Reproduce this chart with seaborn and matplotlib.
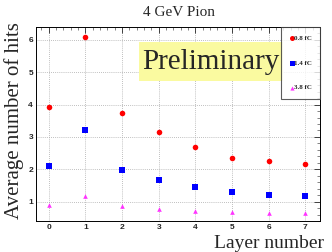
import numpy as np
import pandas as pd
import matplotlib
matplotlib.use("Agg")
import matplotlib.pyplot as plt
import seaborn as sns
from matplotlib.patches import Rectangle
from matplotlib.ticker import MultipleLocator

# ====================== 数据 ===========================
layers = [0, 1, 2, 3, 4, 5, 6, 7]
hits_08 = [3.92, 6.09, 3.75, 3.15, 2.69, 2.35, 2.26, 2.16]
hits_14 = [2.09, 3.22, 1.98, 1.67, 1.44, 1.30, 1.21, 1.18]
hits_38 = [0.90, 1.18, 0.85, 0.78, 0.72, 0.69, 0.66, 0.65]
thresholds = ["0.8 fC", "1.4 fC", "3.8 fC"]

df = pd.DataFrame({
    "layer": layers * 3,
    "hits": hits_08 + hits_14 + hits_38,
    "thr": [t for t in thresholds for _ in layers],
})

sns.set_style("white")
plt.rcParams["font.family"] = ["Liberation Serif", "DejaVu Serif"]

fig = plt.figure(figsize=(3.32, 2.52), dpi=100)
ax = fig.add_axes([0.108, 0.123, 0.856, 0.770])

palette = {"0.8 fC": "#ff0000", "1.4 fC": "#0000ff", "3.8 fC": "#ff33ff"}
markers = {"0.8 fC": "o", "1.4 fC": "s", "3.8 fC": "^"}
sizes = {"0.8 fC": 16, "1.4 fC": 16, "3.8 fC": 11}
for t in thresholds:
    sub = df[df["thr"] == t]
    sns.scatterplot(data=sub, x="layer", y="hits", color=palette[t], marker=markers[t],
                    s=sizes[t], linewidth=0, ax=ax, label=t, zorder=3)

ax.set_xlim(-0.35, 7.4)
ax.set_ylim(0.4, 6.4)
ax.xaxis.set_major_locator(MultipleLocator(1))
ax.yaxis.set_major_locator(MultipleLocator(1))
ax.xaxis.set_minor_locator(MultipleLocator(0.2))
ax.yaxis.set_minor_locator(MultipleLocator(0.2))
ax.grid(True, which="major", linestyle=(0, (1, 1.5)), color="#aaaaaa", linewidth=0.6)
ax.tick_params(which="major", direction="in", length=4, width=0.6, labelsize=6,
               top=True, right=True, pad=2)
ax.tick_params(which="minor", direction="in", length=2, width=0.4, top=True, right=True)
for lab in ax.get_xticklabels() + ax.get_yticklabels():
    lab.set_family(["Liberation Sans", "DejaVu Sans"])
    lab.set_fontweight("bold")
for sp in ax.spines.values():
    sp.set_color("black")
    sp.set_linewidth(0.7)

ax.set_xlabel("")
ax.set_ylabel("")
fig.text(0.54, 0.95, "4 GeV Pion", ha="center", va="center", fontsize=11)
fig.text(0.975, 0.035, "Layer number", ha="right", va="center", fontsize=14)
fig.text(0.012, 0.13, "Average number of hits", ha="left", va="bottom", rotation=90,
         fontsize=15)

# "Preliminary" 黄底标签
ax.add_patch(Rectangle((0.363, 0.722), 0.507, 0.201, transform=ax.transAxes,
                       facecolor="#fafaa0", edgecolor="none", zorder=4))
ax.text(0.616, 0.818, "Preliminary", transform=ax.transAxes, ha="center", va="center",
        fontsize=21, zorder=5)

leg = ax.legend(loc="upper right", bbox_to_anchor=(1.0, 1.0), frameon=True, fancybox=False,
                fontsize=5, handletextpad=0.0, handlelength=0.6, borderpad=1.2,
                labelspacing=2.7, markerscale=0.9, borderaxespad=0)
leg.get_frame().set_edgecolor("#333333")
leg.get_frame().set_linewidth(0.8)
for txt in leg.get_texts():
    txt.set_fontweight("bold")

fig.savefig("out.png", dpi=100)
